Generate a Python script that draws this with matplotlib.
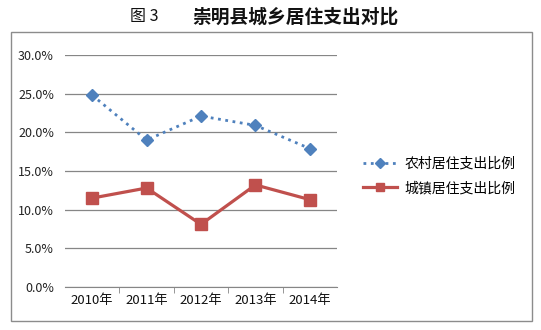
import matplotlib
matplotlib.use("Agg")
import matplotlib.pyplot as plt
from matplotlib.patches import Rectangle
from matplotlib.ticker import FuncFormatter, FixedLocator

plt.rcParams['font.family'] = ['Noto Sans CJK SC', 'DejaVu Sans']

years = ["2010年", "2011年", "2012年", "2013年", "2014年"]
rural = [24.8, 19.0, 22.1, 20.9, 17.9]
urban = [11.5, 12.8, 8.1, 13.2, 11.3]
series_names = ["农村居住支出比例", "城镇居住支出比例"]
fig_no = "图 3"
title = "崇明县城乡居住支出对比"

W, H = 541, 330
fig = plt.figure(figsize=(W / 100, H / 100), dpi=100)

# outer chart frame
fig.patches.append(Rectangle((11 / W, 9 / H), 521 / W, 289 / H,
                             transform=fig.transFigure, fill=False,
                             edgecolor='#8c8c8c', linewidth=1.0))

fig.text(130 / W, 1 - 17 / H, fig_no, ha='left', va='center',
         fontsize=11.5, color='#111111')
fig.text(192 / W, 1 - 17 / H, title, ha='left', va='center',
         fontsize=13.5, fontweight='bold', color='#111111')

ax = fig.add_axes([65 / W, 43 / H, 272 / W, 232 / H])
x = range(len(years))

ax.plot(x, rural, color='#4F81BD', linestyle=':', linewidth=2.0,
        marker='D', markersize=6, label=series_names[0])
ax.plot(x, urban, color='#C0504D', linestyle='-', linewidth=2.3,
        marker='s', markersize=8, label=series_names[1])

ax.set_xlim(-0.5, len(years) - 0.5)
ax.set_ylim(0, 30)
ax.set_yticks([0, 5, 10, 15, 20, 25, 30])
ax.yaxis.set_major_formatter(FuncFormatter(lambda v, _: f"{v:.1f}%"))
ax.grid(axis='y', color='#868686', linewidth=0.9)
ax.set_axisbelow(True)

for s in ['left', 'right', 'top']:
    ax.spines[s].set_visible(False)
ax.spines['bottom'].set_color('#868686')

ax.set_xticks(list(x))
ax.set_xticklabels(years)
ax.xaxis.set_minor_locator(FixedLocator([i + 0.5 for i in range(len(years) - 1)]))
ax.tick_params(axis='x', which='major', length=0, pad=5, labelsize=9.5, colors='#111111')
ax.tick_params(axis='x', which='minor', length=4, color='#868686')
ax.tick_params(axis='y', length=0, pad=8, labelsize=9, labelcolor='#222222')

ax.legend(loc='center left', bbox_to_anchor=(350 / W, 1 - 176 / H),
          bbox_transform=fig.transFigure, frameon=False, fontsize=10,
          handlelength=2.5, labelspacing=0.75, handletextpad=0.5,
          markerscale=0.8)

fig.savefig("out.png", dpi=100)
